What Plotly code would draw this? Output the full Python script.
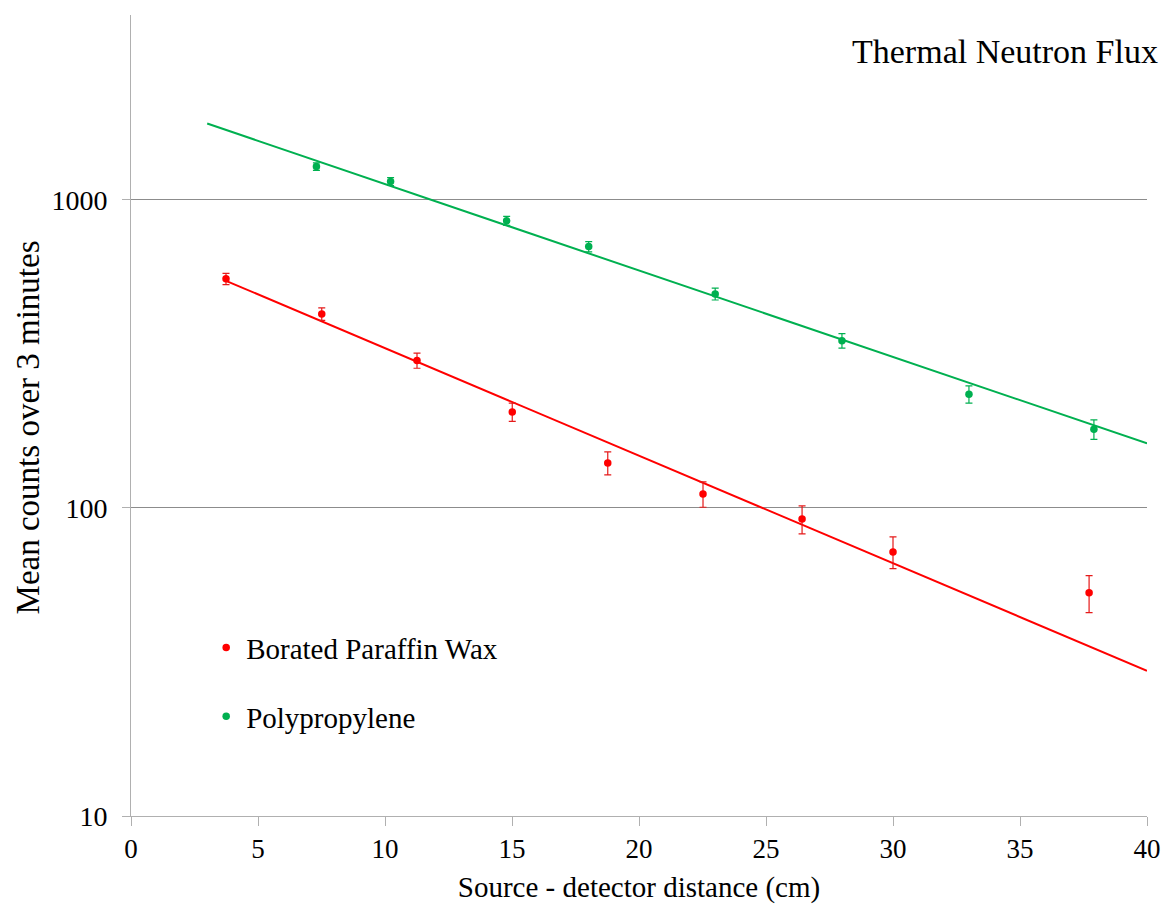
import plotly.graph_objects as go

# Measured mean counts (3-minute runs) vs source-detector distance
paraffin_x = [3.74, 7.51, 11.26, 15.01, 18.77, 22.52, 26.42, 30.0, 37.72]
paraffin_y = [554, 426, 301, 205, 140, 111, 92, 72, 53]
paraffin_err = [23, 20, 17, 14, 12, 10.5, 9.6, 8.5, 7.3]

poly_x = [7.30, 10.22, 14.79, 18.02, 23.0, 27.99, 32.99, 37.91]
poly_y = [1283, 1147, 855, 705, 495, 349, 234, 180]
poly_err = [36, 34, 29, 27, 22, 19, 15, 13]

# Exponential trend lines (end points)
paraffin_trend_x = [3.74, 40]
paraffin_trend_y = [546, 29.6]
poly_trend_x = [3.0, 40]
poly_trend_y = [1769, 162]

y_ticks = [10, 100, 1000]
x_ticks = [0, 5, 10, 15, 20, 25, 30, 35, 40]

RED = "#FF0000"
GREEN = "#00B050"
FONT = "Liberation Serif, Times New Roman, serif"

fig = go.Figure()

fig.add_trace(go.Scatter(
    x=paraffin_trend_x, y=paraffin_trend_y, mode="lines",
    line=dict(color=RED, width=2), showlegend=False, hoverinfo="skip"))
fig.add_trace(go.Scatter(
    x=poly_trend_x, y=poly_trend_y, mode="lines",
    line=dict(color=GREEN, width=2), showlegend=False, hoverinfo="skip"))

fig.add_trace(go.Scatter(
    x=paraffin_x, y=paraffin_y, mode="markers", name="Borated Paraffin Wax",
    legendgroup="a",
    marker=dict(color=RED, size=7.5),
    error_y=dict(type="data", array=paraffin_err, color="#E51A1A", thickness=1.2, width=3.5)))
fig.add_trace(go.Scatter(
    x=poly_x, y=poly_y, mode="markers", name="Polypropylene",
    legendgroup="b",
    marker=dict(color=GREEN, size=7.5),
    error_y=dict(type="data", array=poly_err, color=GREEN, thickness=1.2, width=3.5)))

fig.update_layout(
    width=1166, height=904,
    margin=dict(l=131, r=19, t=15, b=88),
    paper_bgcolor="white", plot_bgcolor="white",
    font=dict(family=FONT, color="black", size=27),
    showlegend=True,
    legend=dict(x=0.074, y=0.242, xanchor="left", yanchor="top",
                bgcolor="rgba(0,0,0,0)", tracegroupgap=28,
                font=dict(family=FONT, size=29)),
    annotations=[
        dict(text="Thermal Neutron Flux", xref="paper", yref="paper",
             x=1.013, y=0.954, xanchor="right", yanchor="middle",
             showarrow=False, font=dict(family=FONT, size=34)),
        dict(text="Mean counts over 3 minutes", xref="paper", yref="paper",
             x=-0.101, y=0.4856, xanchor="center", yanchor="middle",
             textangle=-90, showarrow=False, font=dict(family=FONT, size=33)),
    ],
)

fig.update_xaxes(
    range=[0, 40], tickvals=x_ticks, ticks="outside", ticklen=9, tickcolor="#b0b0b0",
    showline=True, linecolor="#b0b0b0", linewidth=1, showgrid=False, zeroline=False,
    automargin=False, tickfont=dict(size=27),
    title=dict(text="Source - detector distance (cm)", font=dict(size=29), standoff=13))

fig.update_yaxes(
    type="log", range=[1, 3.6], tickvals=y_ticks, ticktext=[str(v) for v in y_ticks],
    ticks="outside", ticklen=8, tickcolor="#b0b0b0", ticklabelstandoff=9,
    showline=True, linecolor="#b0b0b0", linewidth=1,
    showgrid=True, gridcolor="#8c8c8c", gridwidth=1, zeroline=False,
    automargin=False, tickfont=dict(size=28))

fig.write_html("out.html")
